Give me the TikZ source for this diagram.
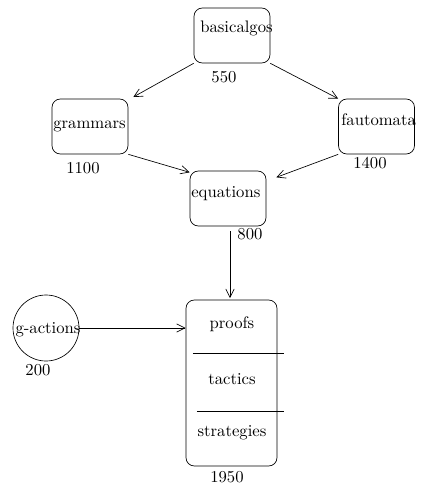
\documentclass[tikz,border=0pt]{standalone}
\usetikzlibrary{arrows.meta, positioning, calc}

\begin{document}
\begin{tikzpicture}[x=0.6pt, y=-0.6pt, >={Straight Barb[length=5pt,width=5pt]}]
\tikzset{
  modbox/.style={draw, rounded corners=5pt, minimum width=45.6pt,
                 minimum height=33pt, inner sep=0pt},
  modtext/.style={anchor=west, inner sep=0pt},
  weight/.style={inner sep=0pt},
}
\useasboundingbox (0,0) rectangle (422,485);

% Module boxes
\node[modbox] (basicalgos) at (232,35.5) {};
\node[modbox] (grammars)   at (90,126.5) {};
\node[modbox] (fautomata)  at (376.5,126.5) {};
\node[modbox] (equations)  at (228,198.5) {};
\node[draw, circle, minimum size=39.6pt, inner sep=0pt] (gactions) at (46,328) {};
\node[draw, rounded corners=5pt, minimum width=54.6pt, minimum height=99.6pt,
      inner sep=0pt] (logic) at (231.5,383) {};

% Module names (they run over the right edge of the box)
\node[modtext] (tbasicalgos) at (200,28)    {basicalgos};
\node[modtext] (tgrammars)   at (53,126)    {grammars};
\node[modtext] (tfautomata)  at (341,120)   {fautomata};
\node[modtext] (tequations)  at (191,194)   {equations};
\node[inner sep=0pt] (tgactions) at (48,330) {g-actions};

% Parts of the big box
\node (tproofs)     at (232,324) {proofs};
\node (ttactics)    at (232,379) {tactics};
\node (tstrategies) at (232,433) {strategies};
\coordinate (s1a) at (193,353);
\coordinate (s1b) at (284,353);
\coordinate (s2a) at (197,411);
\coordinate (s2b) at (284,411);
\draw (s1a) -- (s1b);
\draw (s2a) -- (s2b);

% Weights
\node[weight] (w550)  at (224,77)  {550};
\node[weight] (w1100) at (83,168)  {1100};
\node[weight] (w1400) at (370,163) {1400};
\node[weight] (w800)  at (250,234) {800};
\node[weight] (w200)  at (38,370)  {200};
\node[weight] (w1950) at (227,477) {1950};

% Dependencies
\coordinate (eqout) at (230,231);
\draw[->] (basicalgos.south west) -- ([xshift=3pt,yshift=1pt]grammars.north east);
\draw[->] (basicalgos.south east) -- (fautomata.north west);
\draw[->] (grammars.south east) -- ([yshift=-1pt]equations.north west);
\draw[->] (fautomata.south west) -- ([xshift=6pt,yshift=-4pt]equations.north east);
\draw[->] (eqout) -- ([yshift=1pt]eqout |- logic.north);
\draw[->] (gactions.east) -- (logic.west |- gactions.east);

\end{tikzpicture}
\end{document}
